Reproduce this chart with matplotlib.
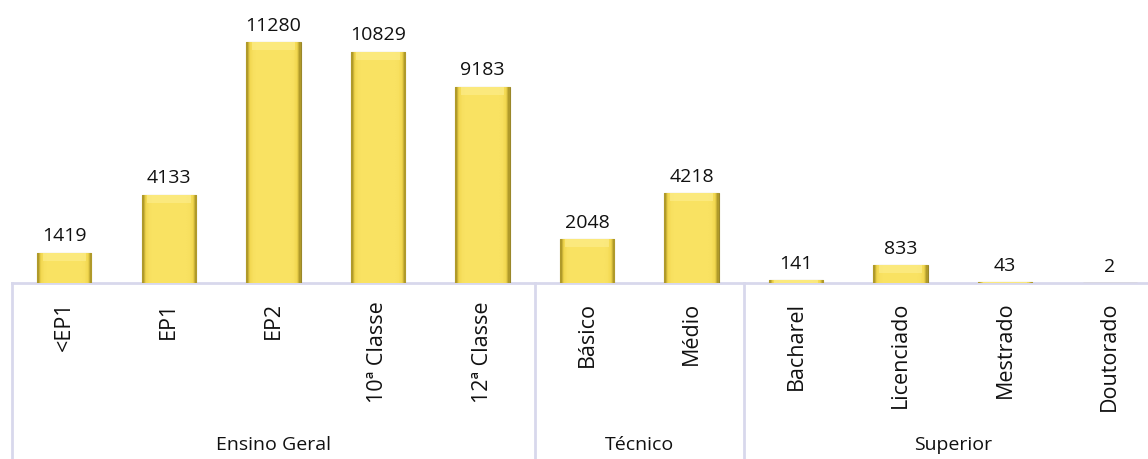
import numpy as np
import matplotlib
matplotlib.use("Agg")
import matplotlib.pyplot as plt
import matplotlib.transforms as mtransforms

plt.rcParams["font.family"] = ["Open Sans", "DejaVu Sans"]

categories = ["<EP1", "EP1", "EP2", "10ª Classe", "12ª Classe",
              "Básico", "Médio",
              "Bacharel", "Licenciado", "Mestrado", "Doutorado"]
values = [1419, 4133, 11280, 10829, 9183, 2048, 4218, 141, 833, 43, 2]
groups = ["Ensino Geral", "Técnico", "Superior"]
group_sizes = [5, 2, 4]

line_col = "#d8d8ec"

fig = plt.figure(figsize=(11.48, 4.6), dpi=100)
ax = fig.add_axes([12 / 1148, 176 / 460, 1150 / 1148, 284 / 460])

x = np.arange(len(categories))
bars = ax.bar(x, values, width=0.52, color="#efd148", edgecolor="#9a872a",
              linewidth=0.8, zorder=2)

# bevelled look: horizontal shading clipped to each bar
shade = np.array([0.0, 0.6, 0.85] + [0.9] * 12 + [0.85, 0.6, 0.0])
cmap = matplotlib.colors.LinearSegmentedColormap.from_list(
    "bev", ["#b09a2a", "#f0d54c", "#f9e262"])
for b in bars:
    x0, w, h = b.get_x(), b.get_width(), b.get_height()
    if h <= 0:
        continue
    im = ax.imshow(shade[np.newaxis, :], cmap=cmap, aspect="auto",
                   extent=(x0, x0 + w, 0, h), zorder=3, interpolation="bilinear")
    im.set_clip_path(b)
    # lighter top facet
    top = min(h, 380)
    ax.fill_between([x0 + w * 0.1, x0 + w * 0.9], h - top, h,
                    color="#fdee90", alpha=0.6, zorder=4, linewidth=0,
                    clip_path=b)

for xi, v in zip(x, values):
    ax.annotate(str(v), (xi, v), xytext=(0, 6), textcoords="offset points",
                ha="center", va="bottom", fontsize=14, color="#111111")

ax.set_xlim(-0.5, len(categories) - 0.5)
ax.set_ylim(0, 13290)
ax.set_xticks([])
ax.set_yticks([])
for s in ["top", "right", "left"]:
    ax.spines[s].set_visible(False)
ax.spines["bottom"].set_color(line_col)
ax.spines["bottom"].set_linewidth(2)
ax.spines["bottom"].set_zorder(1)

trans = mtransforms.blended_transform_factory(ax.transData, ax.transAxes)
for xi, c in zip(x, categories):
    ax.text(xi, -0.062, c, transform=trans, rotation=90, ha="center", va="top",
            fontsize=15.5, color="#111111")

# group dividers and group names
edges = np.concatenate([[0], np.cumsum(group_sizes)]) - 0.5
for e in edges[:-1]:
    ax.plot([e, e], [0, -0.63], transform=trans, color=line_col, lw=2,
            clip_on=False)
for g, a, b in zip(groups, edges[:-1], edges[1:]):
    ax.text((a + b) / 2, -0.567, g, transform=trans, ha="center", va="center",
            fontsize=14, color="#111111")

fig.savefig("out.png", dpi=100)
